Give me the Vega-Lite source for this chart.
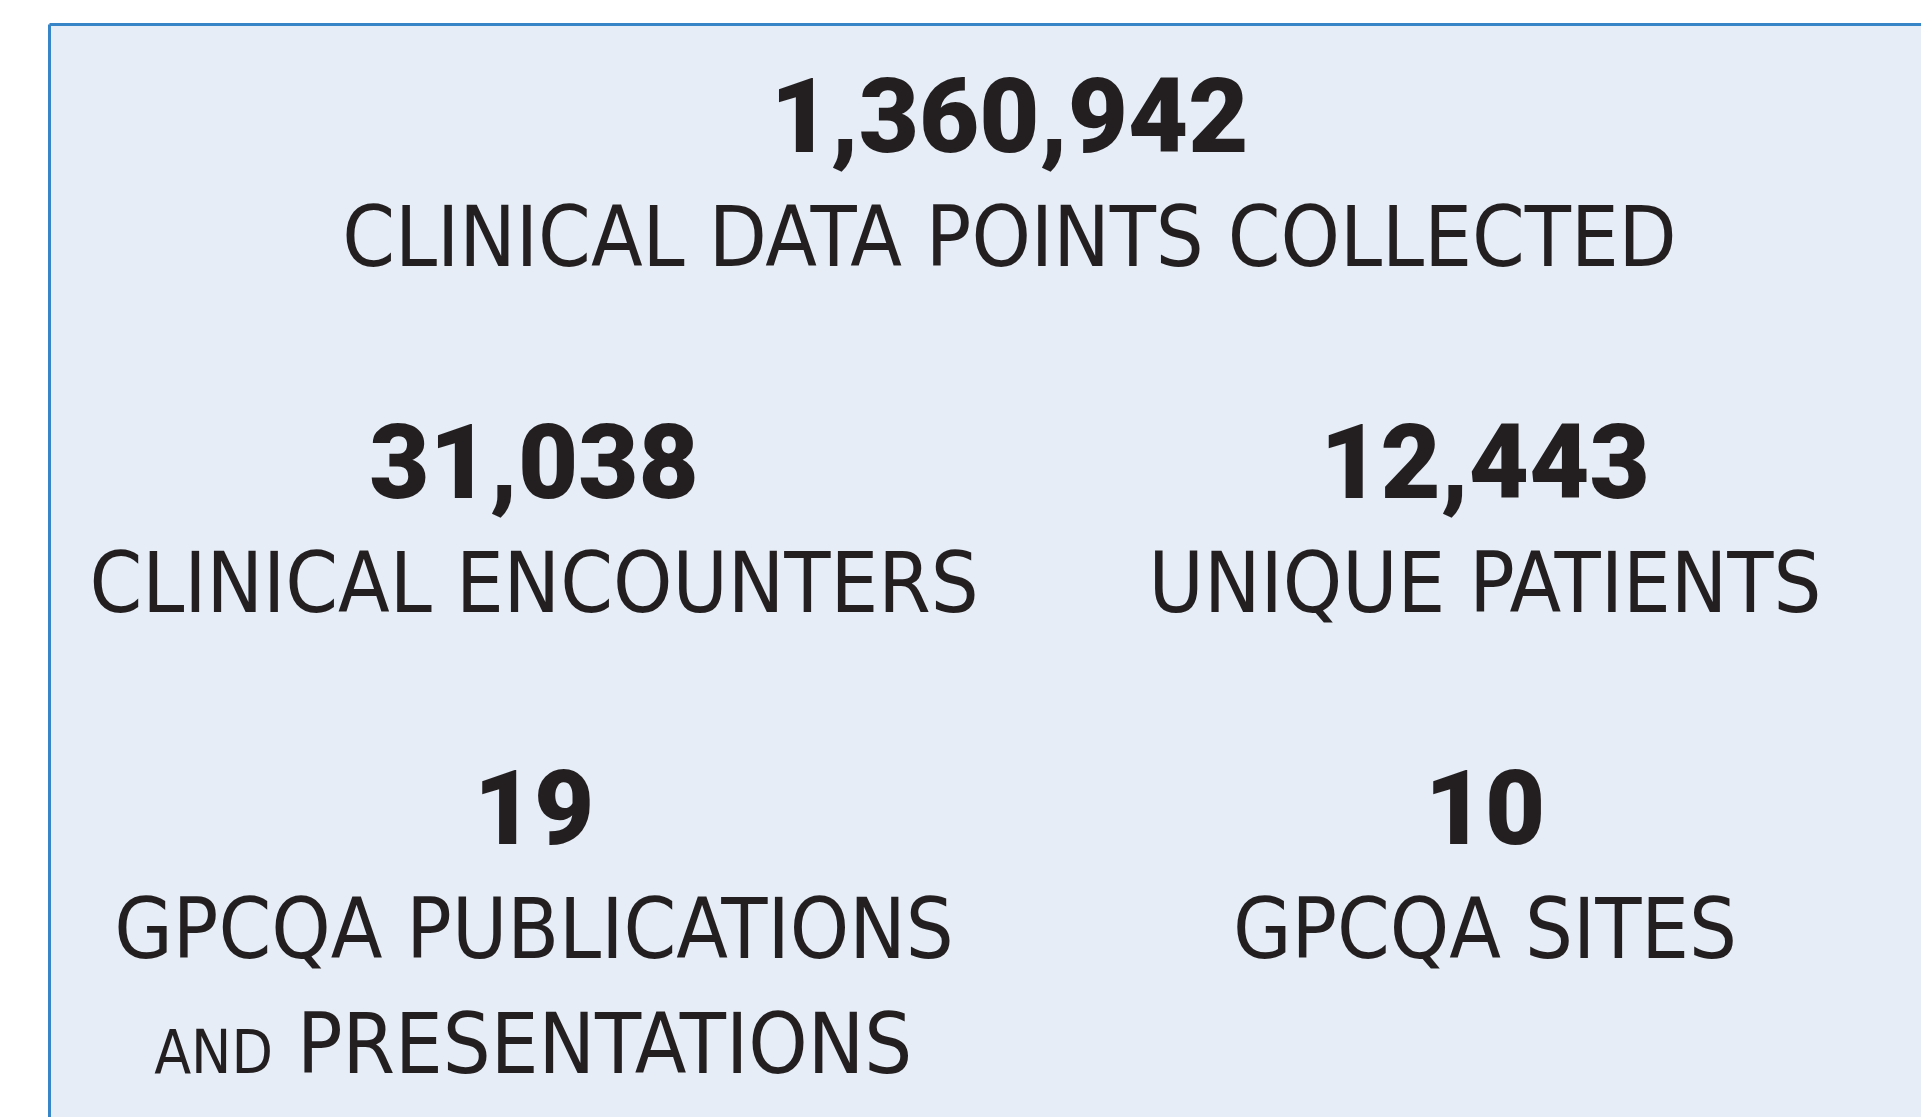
{
  "$schema": "https://vega.github.io/schema/vega-lite/v6.json",
  "width": 1872,
  "height": 1093,
  "autosize": {"type": "none"},
  "padding": {"left": 49, "top": 24, "right": 0, "bottom": 0},
  "background": "#ffffff",
  "config": {
    "view": {"fill": "#e6edf6", "stroke": null},
    "text": {"color": "#231f20"}
  },
  "data": {
    "values": [
      {"col": "center", "row": "1", "part": "number", "text": "1,360,942"},
      {"col": "center", "row": "1", "part": "label", "text": "CLINICAL DATA POINTS COLLECTED"},
      {"col": "left", "row": "2", "part": "number", "text": "31,038"},
      {"col": "left", "row": "2", "part": "label", "text": "CLINICAL ENCOUNTERS"},
      {"col": "right", "row": "2", "part": "number", "text": "12,443"},
      {"col": "right", "row": "2", "part": "label", "text": "UNIQUE PATIENTS"},
      {"col": "left", "row": "3", "part": "number", "text": "19"},
      {"col": "left", "row": "3", "part": "label", "text": "GPCQA PUBLICATIONS"},
      {"col": "left", "row": "3", "part": "smallcaps", "text": "AND"},
      {"col": "left", "row": "3", "part": "label2", "text": "PRESENTATIONS"},
      {"col": "right", "row": "3", "part": "number", "text": "10"},
      {"col": "right", "row": "3", "part": "label", "text": "GPCQA SITES"}
    ]
  },
  "encoding": {
    "x": {
      "field": "col", "type": "nominal",
      "scale": {"type": "point", "domain": ["left", "center", "right"], "padding": 0.9685, "align": 0.5266, "round": false},
      "axis": {"orient": "top", "title": null, "labels": false, "ticks": false, "grid": false, "domain": true, "domainColor": "#3784c6", "domainOpacity": 1, "domainWidth": 3}
    },
    "y": {
      "field": "row", "type": "nominal",
      "scale": {"type": "point", "domain": ["1", "2", "3"], "padding": 0.5795, "align": 0.6035, "round": false},
      "axis": {"orient": "left", "title": null, "labels": false, "ticks": false, "grid": false, "domain": true, "domainColor": "#3784c6", "domainOpacity": 1, "domainWidth": 3}
    },
    "text": {"field": "text", "type": "nominal"}
  },
  "layer": [
    {
      "transform": [{"filter": "datum.part === 'number'"}],
      "mark": {"type": "text", "font": "Roboto, DejaVu Sans Condensed, sans-serif", "fontWeight": 900, "fontSize": 104, "align": "center", "baseline": "alphabetic", "dy": -114}
    },
    {
      "transform": [{"filter": "datum.part === 'label'"}],
      "mark": {"type": "text", "font": "DejaVu Sans Condensed, sans-serif", "fontWeight": "normal", "fontSize": 84, "align": "center", "baseline": "alphabetic"}
    },
    {
      "transform": [{"filter": "datum.part === 'smallcaps'"}],
      "mark": {"type": "text", "font": "DejaVu Sans Condensed, sans-serif", "fontWeight": "normal", "fontSize": 60, "align": "right", "baseline": "alphabetic", "dx": -261, "dy": 115}
    },
    {
      "transform": [{"filter": "datum.part === 'label2'"}],
      "mark": {"type": "text", "font": "DejaVu Sans Condensed, sans-serif", "fontWeight": "normal", "fontSize": 84, "align": "left", "baseline": "alphabetic", "dx": -237, "dy": 115}
    }
  ]
}
